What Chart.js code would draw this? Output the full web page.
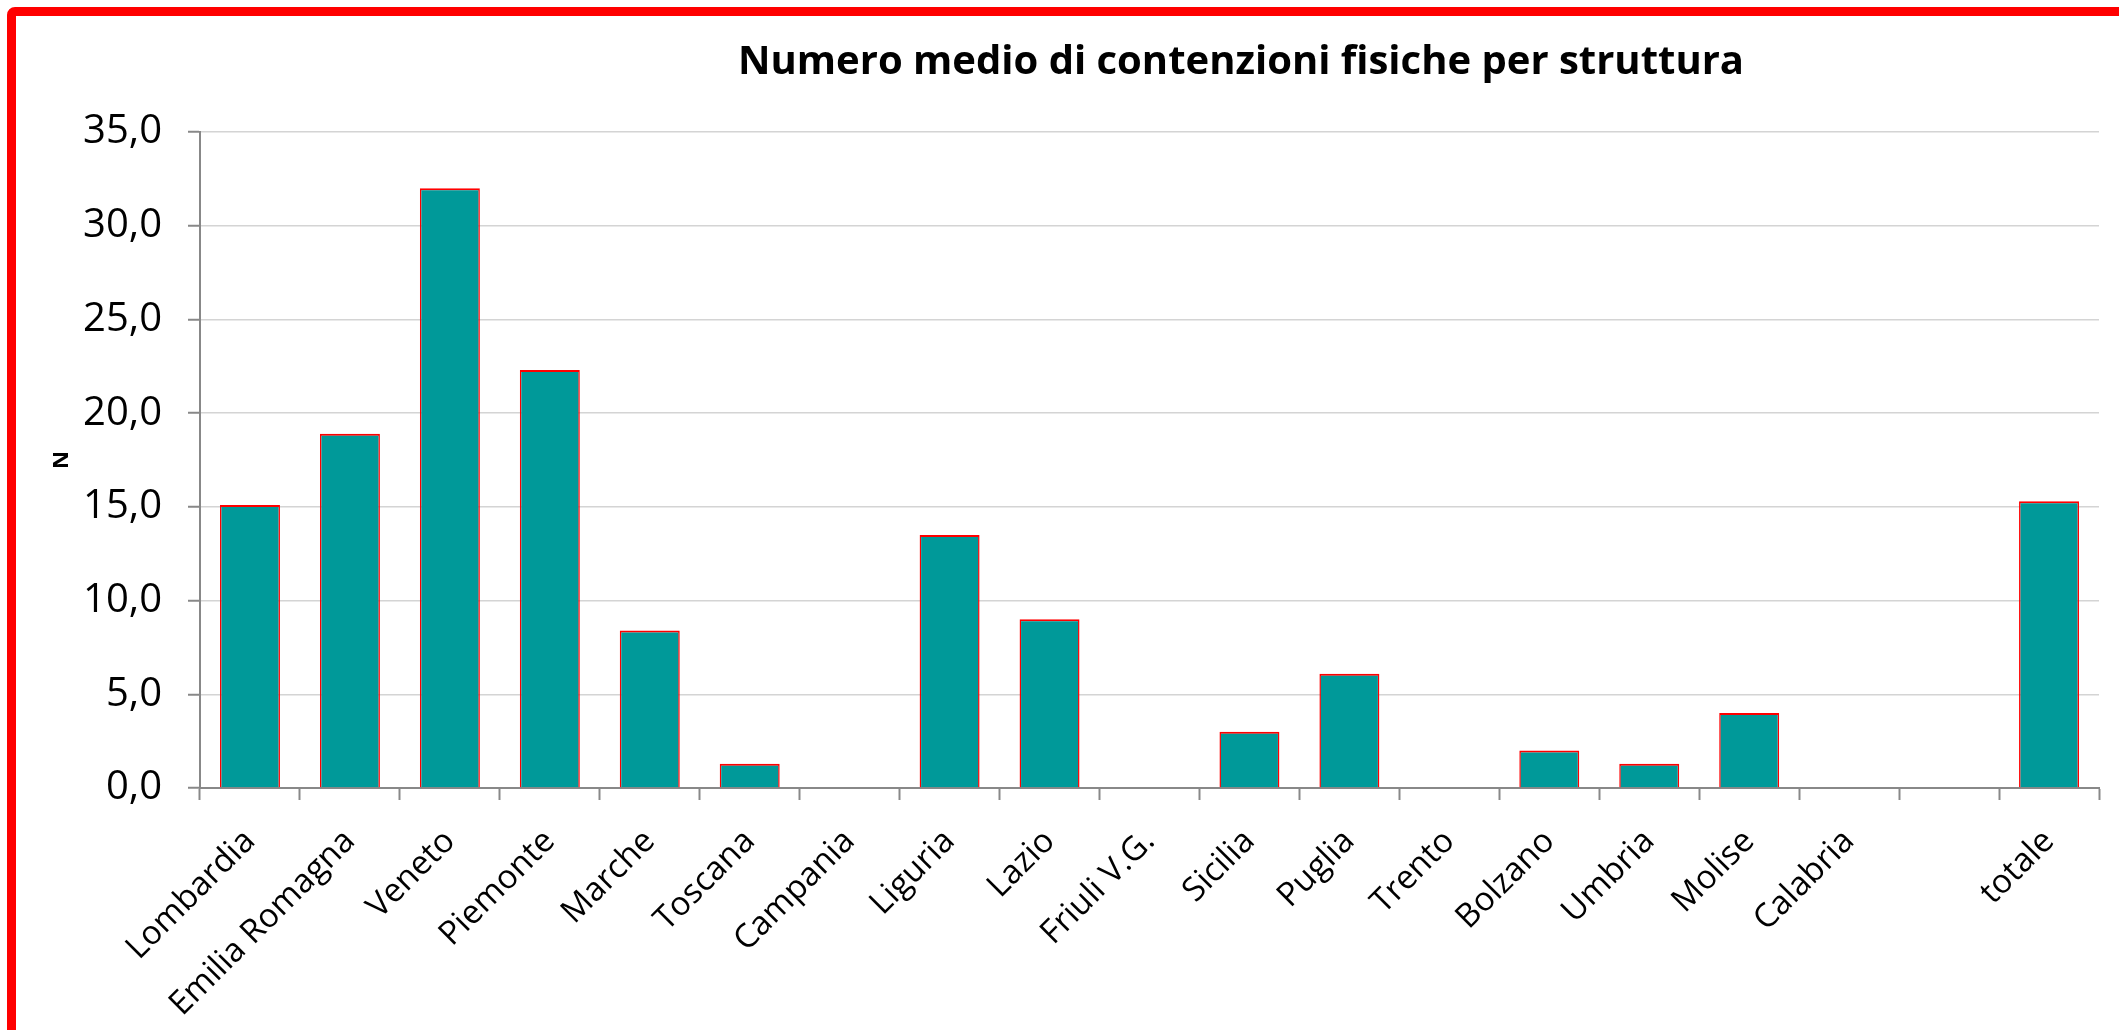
<!DOCTYPE html>
<html>
<head>
<meta charset="utf-8">
<script src="https://cdn.jsdelivr.net/npm/chart.js@4"></script>
<style>
  html, body { margin: 0; padding: 0; background: #fff; overflow: hidden; }
  .frame {
    position: absolute; left: 7px; top: 7px;
    border: 9px solid #ff0000; border-radius: 8px;
    width: 2120px; height: 1030px;
  }
  canvas { display: block; }
</style>
</head>
<body>
<div class="frame">
  <canvas id="myChart" width="2103" height="1014"></canvas>
</div>
<script>
const regioni = ['Lombardia', 'Emilia Romagna', 'Veneto', 'Piemonte', 'Marche', 'Toscana', 'Campania',
  'Liguria', 'Lazio', 'Friuli V.G.', 'Sicilia', 'Puglia', 'Trento', 'Bolzano', 'Umbria', 'Molise',
  'Calabria', '', 'totale'];
const mediaContenzioni = [15.1, 18.9, 32.0, 22.3, 8.4, 1.3, 0, 13.5, 9.0, 0, 3.0, 6.1, 0, 2.0, 1.3, 4.0, 0, null, 15.3];
const titolo = 'Numero medio di contenzioni fisiche per struttura';

// the title in the original is not centred on the chart, so move it a bit
const titleShift = {
  id: 'titleShift',
  afterLayout(chart) {
    const t = chart.titleBlock;
    if (t) t.left = 2 * 1225 - t.right;
  },
};

const ctx = document.getElementById('myChart').getContext('2d');
const myChart = new Chart(ctx, {
  type: 'bar',
  data: {
    labels: regioni,
    datasets: [
      {
        label: 'N',
        data: mediaContenzioni,
        backgroundColor: '#009999',
        borderColor: '#ff0000',
        borderWidth: { top: 2, left: 1.5, right: 1.5, bottom: 0 },
        categoryPercentage: 1,
        barPercentage: 0.6,
      },
    ],
  },
  plugins: [titleShift],
  options: {
    responsive: false,
    animation: false,
    layout: {
      padding: { left: 0, right: 20, top: 0, bottom: 0 },
    },
    plugins: {
      legend: { display: false },
      tooltip: { enabled: false },
      title: {
        display: true,
        text: titolo,
        color: '#000',
        font: { family: 'Open Sans', size: 40, weight: 'bold' },
        padding: { top: 23, bottom: 45 },
      },
    },
    scales: {
      x: {
        afterFit: (scale) => { scale.height = 242; },
        grid: {
          display: true,
          drawOnChartArea: false,
          drawTicks: true,
          tickLength: 12,
          tickColor: '#888',
          tickWidth: 2,
        },
        border: { color: '#888', width: 2 },
        ticks: {
          color: '#000',
          maxRotation: 45,
          minRotation: 45,
          autoSkip: false,
          padding: 22,
          font: { family: 'Open Sans', size: 33 },
        },
      },
      y: {
        min: 0,
        max: 35,
        afterFit: (scale) => { scale.width = 184; },
        title: {
          display: true,
          text: 'N',
          color: '#000',
          font: { family: 'Open Sans', size: 22, weight: 'bold' },
          padding: { top: 33, bottom: 0 },
        },
        grid: {
          color: '#d4d4d4',
          lineWidth: 1.5,
          tickLength: 12,
          tickColor: '#888',
          tickWidth: 2,
        },
        border: { color: '#888', width: 2 },
        ticks: {
          stepSize: 5,
          color: '#000',
          padding: 26,
          font: { family: 'Open Sans', size: 40 },
          callback: (v) => v.toFixed(1).replace('.', ','),
        },
      },
    },
  },
});
</script>
</body>
</html>
